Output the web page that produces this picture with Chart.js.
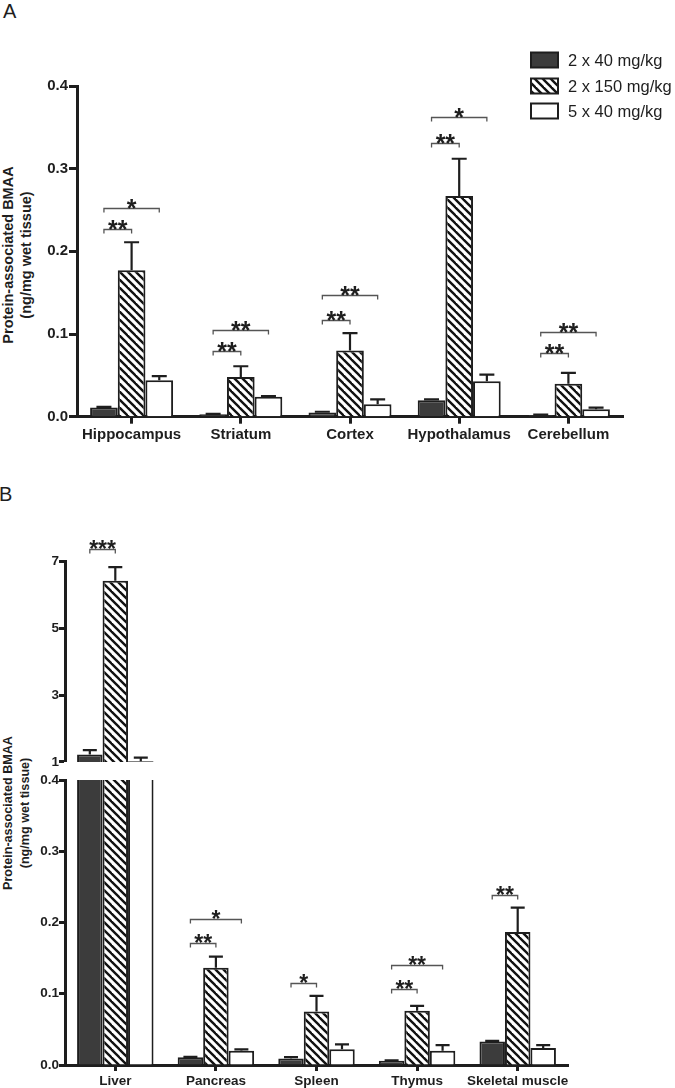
<!DOCTYPE html>
<html><head><meta charset="utf-8">
<script src="https://cdn.jsdelivr.net/npm/chart.js@4.4.1/dist/chart.umd.min.js"></script>
<style>
html,body{margin:0;padding:0;background:#fff;}
#wrap{position:relative;width:675px;height:1088px;overflow:hidden;font-family:'Liberation Sans',Arial,Helvetica,sans-serif;color:#1e1e1e;}
canvas{position:absolute;left:0;}
.lbl{position:absolute;font-size:20px;line-height:23px;}
.ytitle{position:absolute;font-weight:bold;text-align:center;white-space:nowrap;transform:translate(-50%,-50%) rotate(-90deg);}
</style></head><body>
<div id="wrap">
  <div class="lbl" style="left:3px;top:0px">A</div>
  <div class="lbl" style="left:-1px;top:483px">B</div>
  <div class="ytitle" style="left:17px;top:255px;font-size:14.5px;line-height:18px">Protein-associated BMAA<br>(ng/mg wet tissue)</div>
  <div class="ytitle" style="left:17px;top:813px;font-size:12.6px;line-height:17px">Protein-associated BMAA<br>(ng/mg wet tissue)</div>
  <canvas id="cA" width="675" height="470" style="top:0px"></canvas>
  <canvas id="cBu" width="675" height="290" style="top:480px"></canvas>
  <canvas id="cBl" width="675" height="318" style="top:770px"></canvas>
</div>
<script>
// ---------- data ----------
const seriesNames = ['2 x 40 mg/kg', '2 x 150 mg/kg', '5 x 40 mg/kg'];

const categoriesA = ['Hippocampus', 'Striatum', 'Cortex', 'Hypothalamus', 'Cerebellum'];
const a2x40   = [0.011, 0.003, 0.005, 0.020, 0.002];
const a2x40Sem  = [0.001, 0.0005, 0.001, 0.001, 0.0005];
const a2x150  = [0.177, 0.048, 0.080, 0.267, 0.040];
const a2x150Sem = [0.034, 0.013, 0.021, 0.045, 0.013];
const a5x40   = [0.044, 0.024, 0.015, 0.043, 0.009];
const a5x40Sem  = [0.005, 0.001, 0.006, 0.008, 0.002];
const ticksA = [0, 0.1, 0.2, 0.3, 0.4];

const categoriesB = ['Liver', 'Pancreas', 'Spleen', 'Thymus', 'Skeletal muscle'];
const b2x40   = [1.22, 0.011, 0.009, 0.006, 0.033];
const b2x40Sem  = [0.13, 0.0005, 0.002, 0.0005, 0.001];
const b2x150  = [6.43, 0.1365, 0.075, 0.076, 0.1865];
const b2x150Sem = [0.41, 0.0155, 0.022, 0.007, 0.0345];
const b5x40   = [1.02, 0.020, 0.022, 0.020, 0.024];
const b5x40Sem  = [0.11, 0.002, 0.007, 0.008, 0.004];
const ticksBUpper = [1, 3, 5, 7];
const ticksBLower = [0, 0.1, 0.2, 0.3, 0.4];

// significance brackets: category index, from series, to series, bracket level (data units), label
const sigA = [
  {cat:0, from:0, to:1, y:0.2275, label:'**'},
  {cat:0, from:0, to:2, y:0.253,  label:'*'},
  {cat:1, from:0, to:1, y:0.079,  label:'**'},
  {cat:1, from:0, to:2, y:0.105,  label:'**'},
  {cat:2, from:0, to:1, y:0.117,  label:'**'},
  {cat:2, from:0, to:2, y:0.147,  label:'**'},
  {cat:3, from:0, to:1, y:0.3305, label:'**'},
  {cat:3, from:0, to:2, y:0.362,  label:'*'},
  {cat:4, from:0, to:1, y:0.077,  label:'**'},
  {cat:4, from:0, to:2, y:0.102,  label:'**'}
];
const sigBUpper = [
  {cat:0, from:0, to:1, y:7.38, label:'***'}
];
const sigBLower = [
  {cat:1, from:0, to:1, y:0.1707, label:'**'},
  {cat:1, from:0, to:2, y:0.2048, label:'*'},
  {cat:2, from:0, to:1, y:0.1146, label:'*'},
  {cat:3, from:0, to:1, y:0.106,  label:'**'},
  {cat:3, from:0, to:2, y:0.141,  label:'**'},
  {cat:4, from:0, to:1, y:0.238,  label:'**'}
];

// ---------- styles ----------
const FONT = "'Liberation Sans', Arial, Helvetica, sans-serif";
const EDGE = '#1e1e1e';
const DARK = '#3c3c3c';
const TXT = '#1e1e1e';
const BRK = '#555555';

function makeHatch(){
  const s = 8;
  const c = document.createElement('canvas'); c.width = s; c.height = s;
  const g = c.getContext('2d');
  g.fillStyle = '#ffffff'; g.fillRect(0,0,s,s);
  g.strokeStyle = '#111111'; g.lineWidth = 2.4;
  for (let k = -1; k <= 1; k++) {
    g.beginPath(); g.moveTo(k*s - 2, -2); g.lineTo(k*s + s + 2, s + 2); g.stroke();
  }
  return g.createPattern(c, 'repeat');
}
const HATCH = makeHatch();
const FILLS = [DARK, HATCH, '#ffffff'];

function makeExtras(cfg){
  return {
    id: 'extras_' + cfg.name,
    afterDatasetsDraw(chart){
      const ctx = chart.ctx, ys = chart.scales.y, ca = chart.chartArea;
      // error bars (upper half, Prism style)
      ctx.save();
      ctx.beginPath(); ctx.rect(ca.left, ca.top - 3, ca.right - ca.left, ca.bottom - ca.top + 3); ctx.clip();
      ctx.strokeStyle = EDGE; ctx.lineWidth = cfg.errW;
      cfg.sems.forEach((arr, di) => {
        const meta = chart.getDatasetMeta(di);
        arr.forEach((s, i) => {
          const v = chart.data.datasets[di].data[i];
          if (v == null || s == null) return;
          if (v > ys.max || v < ys.min) return;
          const b = meta.data[i];
          const p0 = ys.getPixelForValue(v), p1 = ys.getPixelForValue(v + s);
          ctx.beginPath();
          ctx.moveTo(b.x, p0); ctx.lineTo(b.x, p1);
          ctx.moveTo(b.x - cfg.cap/2, p1); ctx.lineTo(b.x + cfg.cap/2, p1);
          ctx.stroke();
        });
      });
      ctx.restore();
      // significance brackets
      ctx.save();
      ctx.strokeStyle = BRK; ctx.lineWidth = 1.3; ctx.fillStyle = TXT;
      ctx.font = 'bold ' + cfg.starSize + 'px ' + FONT;
      ctx.textAlign = 'center'; ctx.textBaseline = 'alphabetic';
      cfg.sig.forEach(s => {
        const x0 = chart.getDatasetMeta(s.from).data[s.cat].x;
        const x1 = chart.getDatasetMeta(s.to).data[s.cat].x;
        const py = Math.round(ys.getPixelForValue(s.y)) + 0.5;
        ctx.beginPath();
        ctx.moveTo(x0, py + cfg.drop); ctx.lineTo(x0, py); ctx.lineTo(x1, py); ctx.lineTo(x1, py + cfg.drop);
        ctx.stroke();
        ctx.fillText(s.label, (x0 + x1)/2, py - 2 + 0.40*cfg.starSize);
      });
      ctx.restore();
      // legend
      if (cfg.legend) {
        ctx.save();
        const rows = [60, 86, 111];
        chart.data.datasets.forEach((ds, i) => {
          const cy = rows[i];
          ctx.fillStyle = FILLS[i];
          ctx.fillRect(531, cy - 7.5, 27, 15);
          ctx.strokeStyle = EDGE; ctx.lineWidth = 2;
          ctx.strokeRect(531, cy - 7.5, 27, 15);
          ctx.fillStyle = TXT;
          ctx.font = '16.5px ' + FONT;
          ctx.textAlign = 'left'; ctx.textBaseline = 'middle';
          ctx.fillText(ds.label, 568, cy + 1);
        });
        ctx.restore();
      }
    }
  };
}

function datasets(v1, v2, v3){
  return [v1, v2, v3].map((d, i) => ({
    label: seriesNames[i], data: d, backgroundColor: FILLS[i],
    borderColor: EDGE, borderWidth: 2, borderSkipped: 'start', clip: 0,
    categoryPercentage: 0.76, barPercentage: 1.0
  }));
}

function yScale(min, max, tickVals, fontSize, tickLen, pad, width, fmt){
  return {
    min: min, max: max,
    afterBuildTicks(s){ s.ticks = tickVals.map(v => ({value: v})); },
    ticks: { color: TXT, font: {family: FONT, size: fontSize, weight: 'bold'}, padding: pad, callback: fmt },
    grid: { display: true, drawOnChartArea: false, drawTicks: true, tickLength: tickLen, tickWidth: 3, tickColor: EDGE },
    border: { display: true, color: EDGE, width: 3 },
    afterFit(s){ s.width = width; }
  };
}
function xScale(fontSize, tickLen, height){
  return {
    grid: { display: true, drawOnChartArea: false, drawTicks: true, tickLength: tickLen, tickWidth: 3, tickColor: EDGE, offset: false },
    border: { display: true, color: EDGE, width: 3 },
    ticks: { color: TXT, font: {family: FONT, size: fontSize, weight: 'bold'}, padding: 2, maxRotation: 0, autoSkip: false },
    afterFit(s){ s.height = height; }
  };
}
const commonPlugins = { legend: {display: false}, tooltip: {enabled: false} };

// ---------- Panel A ----------
new Chart(document.getElementById('cA'), {
  type: 'bar',
  data: { labels: categoriesA, datasets: datasets(a2x40, a2x150, a5x40) },
  options: {
    responsive: false, animation: false, devicePixelRatio: 1,
    layout: { padding: {top: 86, right: 52, left: 0, bottom: 0} },
    plugins: commonPlugins,
    scales: {
      x: xScale(15, 7, 53.3),
      y: yScale(0, 0.4, ticksA, 15, 8, 1, 77, v => Number(v).toFixed(1))
    }
  },
  plugins: [makeExtras({name:'A', sems:[a2x40Sem, a2x150Sem, a5x40Sem], sig: sigA, errW: 2.2, cap: 15, starSize: 25, drop: 4, legend: true})]
});

// ---------- Panel B upper (broken axis, 1-7) ----------
new Chart(document.getElementById('cBu'), {
  type: 'bar',
  data: { labels: categoriesB, datasets: datasets(b2x40, b2x150, b5x40) },
  options: {
    responsive: false, animation: false, devicePixelRatio: 1,
    layout: { padding: {top: 81.7, right: 107, left: 0, bottom: 6.7} },
    plugins: commonPlugins,
    scales: {
      x: { display: false },
      y: yScale(1, 7, ticksBUpper, 13.5, 6, 0, 65, v => String(v))
    }
  },
  plugins: [makeExtras({name:'Bu', sems:[b2x40Sem, b2x150Sem, b5x40Sem], sig: sigBUpper, errW: 2.2, cap: 14, starSize: 23, drop: 4, legend: false})]
});

// ---------- Panel B lower (0-0.4) ----------
new Chart(document.getElementById('cBl'), {
  type: 'bar',
  data: { labels: categoriesB, datasets: datasets(b2x40, b2x150, b5x40) },
  options: {
    responsive: false, animation: false, devicePixelRatio: 1,
    layout: { padding: {top: 10, right: 107, left: 0, bottom: 0} },
    plugins: commonPlugins,
    scales: {
      x: xScale(13.5, 6, 23),
      y: yScale(0, 0.4, ticksBLower, 13.5, 6, 0, 65, v => Number(v).toFixed(1))
    }
  },
  plugins: [makeExtras({name:'Bl', sems:[b2x40Sem, b2x150Sem, b5x40Sem], sig: sigBLower, errW: 2.2, cap: 14, starSize: 23, drop: 4, legend: false})]
});
</script>
</body></html>
